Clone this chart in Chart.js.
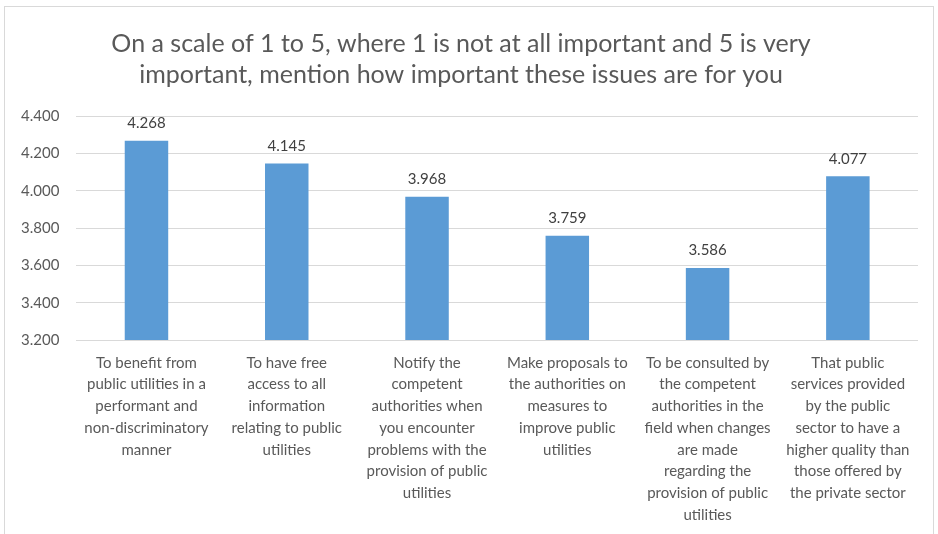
<!DOCTYPE html>
<html>
<head>
<meta charset="utf-8">
<script src="https://cdn.jsdelivr.net/npm/chart.js@4.4.0/dist/chart.umd.min.js"></script>
<style>
    html, body { margin: 0; padding: 0; background: #fff; }
    #wrap { position: relative; width: 938px; height: 534px; }
    #frame { position: absolute; left: 4px; top: 6px; width: 930px; height: 540px; border: 1px solid #d9d9d9; box-sizing: border-box; }
    canvas { position: absolute; left: 0; top: 0; }
</style>
</head>
<body>
<div id="wrap">
    <div id="frame"></div>
    <canvas id="chart" width="938" height="534"></canvas>
</div>
<script>
const titleLines = [
    'On a scale of 1 to 5, where 1 is not at all important and 5 is very',
    'important, mention how important these issues are for you'
];
const categories = [
    ['To benefit from', 'public utilities in a', 'performant and', 'non-discriminatory', 'manner'],
    ['To have free', 'access to all', 'information', 'relating to public', 'utilities'],
    ['Notify the', 'competent', 'authorities when', 'you encounter', 'problems with the', 'provision of public', 'utilities'],
    ['Make proposals to', 'the authorities on', 'measures to', 'improve public', 'utilities'],
    ['To be consulted by', 'the competent', 'authorities in the', 'field when changes', 'are made', 'regarding the', 'provision of public', 'utilities'],
    ['That public', 'services provided', 'by the public', 'sector to have a', 'higher quality than', 'those offered by', 'the private sector']
];
const values = [4.268, 4.145, 3.968, 3.759, 3.586, 4.077];
const yMin = 3.2;
const yMax = 4.4;
const yStep = 0.2;

const fontFamily = 'Lato, "Open Sans", sans-serif';
const textColor = '#595959';

// values above the bars
const valueLabels = {
    id: 'valueLabels',
    afterDatasetsDraw(chart) {
        const ctx = chart.ctx;
        const meta = chart.getDatasetMeta(0);
        ctx.save();
        ctx.font = '15px ' + fontFamily;
        ctx.fillStyle = '#404040';
        ctx.textAlign = 'center';
        ctx.textBaseline = 'bottom';
        meta.data.forEach((bar, i) => {
            ctx.fillText(values[i].toFixed(3), bar.x, bar.y - 10);
        });
        ctx.restore();
    }
};

new Chart(document.getElementById('chart'), {
    type: 'bar',
    plugins: [valueLabels],
    data: {
        labels: categories,
        datasets: [{
            data: values,
            backgroundColor: '#5b9bd5',
            borderWidth: 0,
            categoryPercentage: 1,
            barPercentage: 0.31
        }]
    },
    options: {
        responsive: false,
        animation: false,
        layout: {padding: {left: 4, right: 20, top: 8, bottom: 4}},
        plugins: {
            legend: {display: false},
            tooltip: {enabled: false},
            title: {
                display: true,
                text: titleLines,
                color: textColor,
                font: {family: fontFamily, size: 25, weight: 'normal', lineHeight: 1.24},
                padding: {top: 20, bottom: 26}
            }
        },
        scales: {
            x: {
                grid: {display: false},
                border: {display: false},
                ticks: {
                    color: textColor,
                    font: {family: fontFamily, size: 15, lineHeight: 1.45},
                    maxRotation: 0,
                    autoSkip: false,
                    padding: 4
                }
            },
            y: {
                min: yMin,
                max: yMax,
                grid: {color: '#d9d9d9', drawTicks: false},
                border: {display: false},
                ticks: {
                    stepSize: yStep,
                    color: textColor,
                    font: {family: fontFamily, size: 15},
                    padding: 17,
                    callback: v => v.toFixed(3)
                }
            }
        }
    }
});
</script>
</body>
</html>
